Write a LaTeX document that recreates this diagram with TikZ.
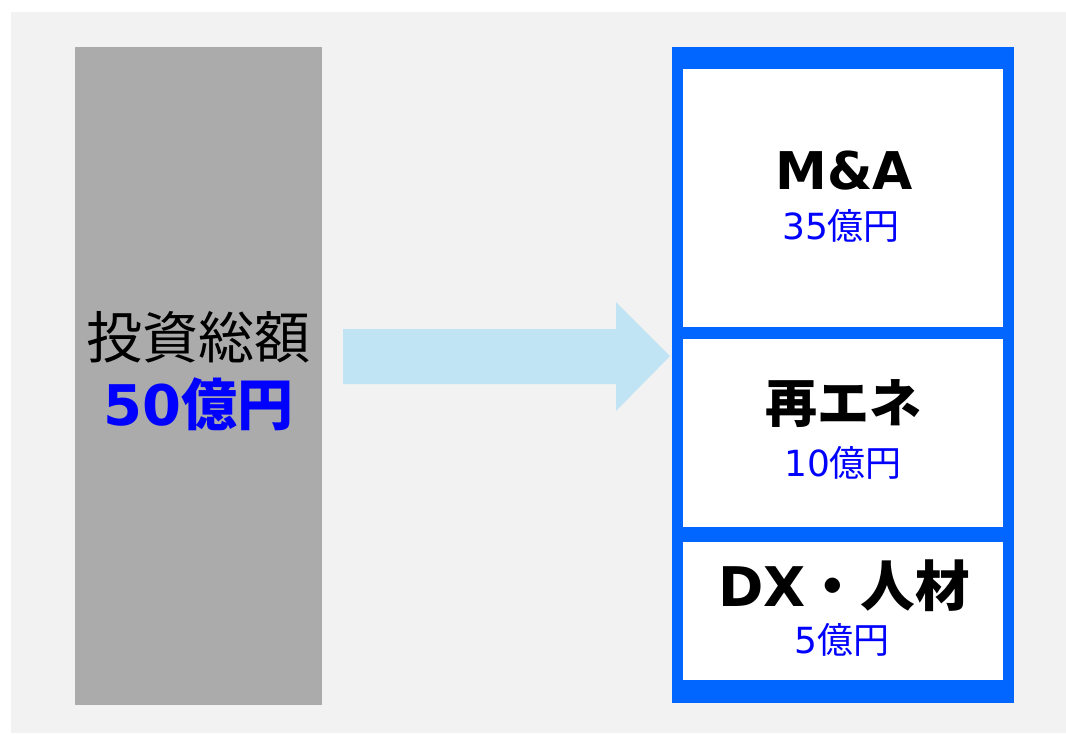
\documentclass[tikz,border=0pt]{standalone}
\usepackage{fontspec}
\newfontfamily\jp{Noto Sans CJK JP}
\newfontfamily\lat{DejaVu Sans}
\definecolor{bgc}{HTML}{F2F2F2}
\definecolor{boxgray}{HTML}{ABABAB}
\definecolor{frameblue}{HTML}{0066FF}
\definecolor{txtblue}{HTML}{0000FF}
\definecolor{arrowblue}{HTML}{C0E4F4}
\tikzset{
  big/.style={font=\fontsize{42}{50}\selectfont, inner sep=0pt},
  head/.style={font=\fontsize{39}{46}\selectfont\bfseries, inner sep=0pt},
  amount/.style={font=\fontsize{27}{32}\selectfont, text=txtblue, inner sep=0pt},
  panel/.style={fill=white, draw=none}
}
\begin{document}
\begin{tikzpicture}[x=0.75pt,y=-0.75pt]
\useasboundingbox (0,0) rectangle (1066,733);
\fill[white] (0,0) rectangle (1066,733);
\fill[bgc] (11,12) rectangle (1066,733);
% left box
\fill[boxgray] (75,47) rectangle (322,705);
\node[big] (total) at (198.5,337) {\jp 投資総額};
\node[big, text=txtblue, font=\fontsize{42}{50}\selectfont\bfseries] (totalamt) at (198.5,404) {\lat 50\jp 億円};
% arrow
\fill[arrowblue] (343,329) -- (616,329) -- (616,302) -- (670,356) -- (616,411) -- (616,384) -- (343,384) -- cycle;
% right frame
\fill[frameblue] (672,47) rectangle (1014,703);
\fill[panel] (683,69) rectangle (1003,327);
\fill[panel] (683,339) rectangle (1003,527);
\fill[panel] (683,542) rectangle (1003,680);
\node[head] (ma) at (844,171) {\lat M\&A};
\node[amount] (maamt) at (841,226) {\lat 35\jp 億円};
\node[head] (re) at (843,404) {\jp 再エネ};
\node[amount] (reamt) at (843,463) {\lat 10\jp 億円};
\node[head, font=\fontsize{41}{46}\selectfont\bfseries] (dx) at (844,586) {\lat DX\jp ・人材};
\node[amount] (dxamt) at (842,640) {\lat 5\jp 億円};
\end{tikzpicture}
\end{document}
